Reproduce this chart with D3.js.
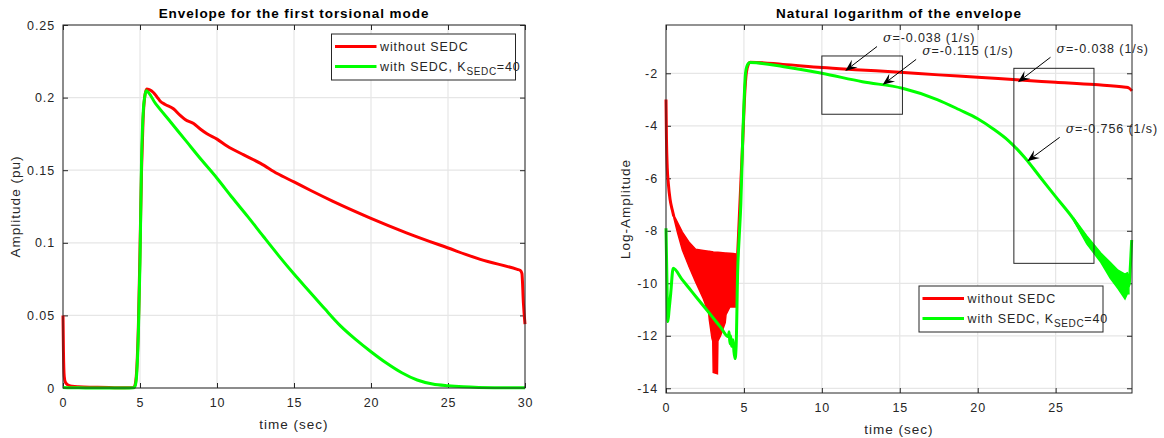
<!DOCTYPE html>
<html lang="en">
<head>
<meta charset="UTF-8">
<title>envelope of the first torsional mode</title>
<script src="https://d3js.org/d3.v7.min.js"></script>
<style>
    body{margin:0;background:#fff;}
    text{font-family:"Liberation Sans",Arial,sans-serif;fill:#262626;font-size:12.5px;letter-spacing:0.9px;}
    .title{font-weight:bold;font-size:13.5px;letter-spacing:0.95px;fill:#000;}
    .label{font-size:13.5px;letter-spacing:1px;}
</style>
</head>
<body>
<svg id="fig" width="1164" height="438"></svg>
<script>
    // series names
    let seriesNames = ["without SEDC", "with SEDC, K"]

    // left plot: envelope (pu)
    let envRedT = [0, 0.03, 0.08, 0.15, 0.3, 0.6, 1, 2, 3, 4, 4.6, 4.7, 4.8, 4.9, 5.0, 5.1, 5.2, 5.3,
        5.43, 5.6, 5.87, 6.1, 6.3, 6.63, 7.17, 7.61, 7.93, 8.48, 8.91, 9.35, 10.0, 10.65, 11.74, 12.83,
        13.91, 15.0, 16.09, 17.5, 19.92, 22.3, 24.96, 27.1, 29.5, 29.7, 29.8, 29.9, 30]
    let envRed = [0.05, 0.025, 0.008, 0.004, 0.0022, 0.0012, 0.0008, 0.0005, 0.0003, 0.0002, 0.0003, 0.003,
        0.015, 0.045, 0.095, 0.15, 0.185, 0.2, 0.206, 0.2055, 0.2035, 0.2005, 0.1977, 0.1953, 0.1923, 0.1877,
        0.1849, 0.1821, 0.1784, 0.1751, 0.1714, 0.1667, 0.1605, 0.1547, 0.1477, 0.1419, 0.136, 0.1287,
        0.1172, 0.1069, 0.0966, 0.0886, 0.0817, 0.081, 0.079, 0.058, 0.044]
    let envGreenT = [0, 1, 2, 3, 4, 4.6, 4.7, 4.8, 4.9, 5.0, 5.1, 5.22, 5.3, 5.39, 6, 7, 8, 9, 10, 11, 12,
        13, 14, 15, 16, 17, 18, 19, 20, 21, 22, 23, 24, 25, 26, 27, 28, 30]
    let envGreen = [0.0004, 0.0001, 0.00005, 0.00002, 0.00001, 0.0002, 0.002, 0.012, 0.04, 0.087, 0.157,
        0.192, 0.2, 0.2047, 0.196, 0.183, 0.170, 0.157, 0.1445, 0.131, 0.118, 0.1045, 0.0912, 0.0785, 0.0665,
        0.0545, 0.043, 0.0335, 0.025, 0.0172, 0.0105, 0.0055, 0.0027, 0.0015, 0.0008, 0.0004, 0.0002, 0.0001]

    // right plot: ln(envelope)
    let logRedStartT = [0, 0.03, 0.08, 0.15, 0.26, 0.4, 0.5]
    let logRedStart = [-3.0, -4.5, -5.6, -6.2, -6.8, -7.2, -7.45]
    let redBandT = [0.5, 0.75, 1.05, 1.5, 1.9, 2.4, 2.74, 2.78, 2.95, 3.0, 3.03, 3.3, 3.33, 3.5, 3.8, 3.85, 4.1, 4.3, 4.47]
    let redBandUp = [-7.4, -7.7, -8.05, -8.45, -8.7, -8.75, -8.78, -8.78, -8.8, -8.8, -8.81, -8.82, -8.82,
        -8.83, -8.85, -8.85, -8.86, -8.87, -8.88]
    let redBandLo = [-7.5, -8.1, -8.73, -9.4, -9.95, -10.6, -11.15, -11.4, -12.1, -12.2, -13.4, -13.45,
        -12.2, -12.0, -11.5, -11.2, -10.9, -10.9, -10.9]
    let logRedT = [4.47, 4.5, 4.55, 4.65, 4.8, 4.93, 5.05, 5.15, 5.29, 5.4, 7.5, 10, 12.5, 15, 17.5, 20,
        22.5, 25, 27.5, 29.5, 29.7, 29.9]
    let logRed = [-10.9, -10.6, -9.6, -8.2, -6.2, -4.5, -2.8, -2.0, -1.65, -1.58, -1.66, -1.78, -1.87,
        -1.96, -2.06, -2.15, -2.25, -2.34, -2.43, -2.53, -2.56, -2.67]
    let logGreenT = [0, 0.05, 0.12, 0.2, 0.3, 0.46, 1, 1.5, 2, 2.5, 3, 3.5, 4.0, 4.05, 4.1, 4.15, 4.2, 4.3,
        4.36, 4.43, 4.5, 4.6, 4.7, 4.8, 4.93, 5.02, 5.1, 5.2, 5.3, 5.4, 7.56, 10, 12.6, 15.17, 17.4, 18.8,
        20, 21, 22, 23, 24, 25, 26.2, 27, 27.9, 28.5, 29, 29.45, 29.7, 29.8, 29.88]
    let logGreen = [-7.9, -9.6, -11.46, -11.0, -10.4, -9.43, -9.83, -10.2, -10.57, -10.93, -11.3, -11.67,
        -12.04, -11.85, -12.3, -12.0, -12.4, -12.15, -12.6, -12.87, -12.4, -9.5, -8.2, -7.0, -4.3, -2.9,
        -2.0, -1.72, -1.62, -1.59, -1.75, -2.0, -2.32, -2.57, -3.0, -3.38, -3.73, -4.12, -4.58, -5.2, -5.95,
        -6.7, -7.6, -8.35, -9.0, -9.5, -9.85, -10.1, -10.1, -9.3, -8.35]
    let greenTailT = [26.2, 27, 27.9, 28.5, 29, 29.45, 29.6, 29.7]
    let greenTailUp = [-7.55, -8.2, -8.85, -9.2, -9.5, -9.65, -9.6, -9.7]
    let greenTailLo = [-7.65, -8.5, -9.2, -9.8, -10.2, -10.6, -10.4, -10.4]

    // annotations on the log plot (data units)
    let sigmaText = ["=-0.038 (1/s)", "=-0.115 (1/s)", "=-0.038 (1/s)", "=-0.756 (1/s)"]
    let arrowTail = [[13.54, -0.98], [16.05, -1.47], [24.67, -1.39], [25.26, -4.44]]
    let arrowHead = [[11.5, -1.91], [13.9, -2.44], [22.58, -2.34], [23.18, -5.35]]
    let zoomBoxes = [[10.0, 15.17, -1.34, -3.56], [22.32, 27.46, -1.81, -9.24]]

    let svg = d3.select("#fig")
    let RED = "#ff0000", GREEN = "#00ff00"

    function panel(o) {
        let x = d3.scaleLinear().domain(o.xDomain).range([o.left, o.right])
        let y = d3.scaleLinear().domain(o.yDomain).range([o.bottom, o.top])
        let g = svg.append("g")

        g.append("rect").attr("x", o.left).attr("y", o.top)
            .attr("width", o.right - o.left).attr("height", o.bottom - o.top).attr("fill", "#fff")

        // grid
        g.selectAll(".gx").data(o.xTicks).join("line")
            .attr("x1", d => x(d)).attr("x2", d => x(d)).attr("y1", o.top).attr("y2", o.bottom)
            .attr("stroke", "#e6e6e6").attr("stroke-width", 1.2)
        g.selectAll(".gy").data(o.yTicks).join("line")
            .attr("y1", d => y(d)).attr("y2", d => y(d)).attr("x1", o.left).attr("x2", o.right)
            .attr("stroke", "#e6e6e6").attr("stroke-width", 1.2)

        // axes (ticks inside, box on)
        let ax = [
            [d3.axisBottom(x).tickValues(o.xTicks).tickFormat(d => String(d)), 0, o.bottom],
            [d3.axisTop(x).tickValues(o.xTicks).tickFormat(""), 0, o.top],
            [d3.axisLeft(y).tickValues(o.yTicks).tickFormat(o.yFormat), o.left, 0],
            [d3.axisRight(y).tickValues(o.yTicks).tickFormat(""), o.right, 0]
        ]
        ax.forEach(function (a, i) {
            let sel = g.append("g").attr("transform", "translate(" + a[1] + "," + a[2] + ")")
                .call(a[0].tickSize(-5).tickSizeOuter(0).tickPadding(i === 0 ? 10 : 8))
            sel.select(".domain").remove()
            sel.selectAll("line").attr("stroke", "#262626")
            sel.selectAll("text").attr("fill", "#262626")
            sel.attr("font-size", null).attr("font-family", null)
        })

        g.append("text").attr("class", "title").attr("x", (o.left + o.right) / 2).attr("y", 18)
            .attr("text-anchor", "middle").text(o.title)
        g.append("text").attr("class", "label").attr("x", (o.left + o.right) / 2).attr("y", o.bottom + 41)
            .attr("text-anchor", "middle").text("time (sec)")
        g.append("text").attr("class", "label")
            .attr("transform", "translate(" + o.yLabelX + "," + ((o.top + o.bottom) / 2) + ") rotate(-90)")
            .attr("text-anchor", "middle").attr("dy", "0.35em").text(o.yLabel)

        return {g: g, x: x, y: y, o: o}
    }

    function line(p, ts, vs, color) {
        let l = d3.line().x(d => p.x(d[0])).y(d => p.y(d[1])).curve(d3.curveMonotoneX)
        p.g.append("path").datum(d3.zip(ts, vs)).attr("d", l)
            .attr("fill", "none").attr("stroke", color).attr("stroke-width", 3)
            .attr("stroke-linejoin", "round")
    }

    function band(p, ts, up, lo, color) {
        let a = d3.area().x(d => p.x(d[0])).y0(d => p.y(d[2])).y1(d => p.y(d[1]))
        p.g.append("path").datum(d3.zip(ts, up, lo)).attr("d", a)
            .attr("fill", color).attr("stroke", color).attr("stroke-width", 1.5)
    }

    function frame(p) {
        let o = p.o
        p.g.append("rect").attr("x", o.left).attr("y", o.top)
            .attr("width", o.right - o.left).attr("height", o.bottom - o.top)
            .attr("fill", "none").attr("stroke", "#262626").attr("stroke-width", 1)
    }

    function legend(p, bx, by) {
        let g = p.g.append("g").attr("transform", "translate(" + bx + "," + by + ")")
        g.append("rect").attr("width", 184).attr("height", 46)
            .attr("fill", "#fff").attr("stroke", "#262626").attr("stroke-width", 1)
        let colors = [RED, GREEN]
        seriesNames.forEach(function (name, i) {
            let yy = 12.5 + i * 20
            g.append("line").attr("x1", 3.5).attr("x2", 45).attr("y1", yy).attr("y2", yy)
                .attr("stroke", colors[i]).attr("stroke-width", 3)
            let t = g.append("text").attr("x", 48.5).attr("y", yy).attr("dy", "0.36em").text(name)
            if (i === 1) {
                t.append("tspan").attr("dy", 4).attr("font-size", "10px").attr("letter-spacing", "0.6px").text("SEDC")
                t.append("tspan").attr("dy", -4).text("=40")
            }
        })
    }

    // ---- left: envelope
    let pl = panel({
        left: 63, right: 525, top: 25, bottom: 388,
        xDomain: [0, 30], yDomain: [0, 0.25],
        xTicks: [0, 5, 10, 15, 20, 25, 30], yTicks: [0, 0.05, 0.1, 0.15, 0.2, 0.25],
        yFormat: d => String(+d.toFixed(2)),
        title: "Envelope for the first torsional mode", yLabel: "Amplitude (pu)", yLabelX: 15
    })
    line(pl, envRedT, envRed, RED)
    line(pl, envGreenT, envGreen, GREEN)
    frame(pl)
    legend(pl, 331.5, 34)

    // ---- right: natural log of envelope
    let pr = panel({
        left: 666, right: 1132, top: 25, bottom: 393,
        xDomain: [0, 29.9], yDomain: [-14.18, -0.16],
        xTicks: [0, 5, 10, 15, 20, 25], yTicks: [-14, -12, -10, -8, -6, -4, -2],
        yFormat: d => String(d),
        title: "Natural logarithm of the envelope", yLabel: "Log-Amplitude", yLabelX: 625
    })
    line(pr, logRedStartT, logRedStart, RED)
    band(pr, redBandT, redBandUp, redBandLo, RED)
    line(pr, logRedT, logRed, RED)
    band(pr, greenTailT, greenTailUp, greenTailLo, GREEN)
    line(pr, logGreenT, logGreen, GREEN)
    frame(pr)

    zoomBoxes.forEach(function (b) {
        pr.g.append("rect").attr("x", pr.x(b[0])).attr("y", pr.y(b[2]))
            .attr("width", pr.x(b[1]) - pr.x(b[0])).attr("height", pr.y(b[3]) - pr.y(b[2]))
            .attr("fill", "none").attr("stroke", "#262626").attr("stroke-width", 1)
    })

    sigmaText.forEach(function (s, i) {
        let x0 = pr.x(arrowTail[i][0]), y0 = pr.y(arrowTail[i][1])
        let x1 = pr.x(arrowHead[i][0]), y1 = pr.y(arrowHead[i][1])
        let ang = Math.atan2(y1 - y0, x1 - x0)
        let L = 12, Wd = 4.8
        let ux = Math.cos(ang), uy = Math.sin(ang)
        let bx = x1 - ux * L, by = y1 - uy * L
        let nx = x1 - ux * L * 0.62, ny = y1 - uy * L * 0.62
        pr.g.append("line").attr("x1", x0).attr("y1", y0).attr("x2", nx).attr("y2", ny)
            .attr("stroke", "#000").attr("stroke-width", 1)
        pr.g.append("path")
            .attr("d", "M" + x1 + "," + y1 +
                "L" + (bx - uy * Wd) + "," + (by + ux * Wd) +
                "L" + nx + "," + ny +
                "L" + (bx + uy * Wd) + "," + (by - ux * Wd) + "Z")
            .attr("fill", "#000")
        let t = pr.g.append("text").attr("x", x0 + 6).attr("y", y0 - 9).attr("dy", "0.36em")
        t.append("tspan").attr("font-style", "italic").attr("font-family", "'DejaVu Serif',serif").text("σ")
        t.append("tspan").text(s)
    })

    legend(pr, 919, 286)
</script>
</body>
</html>
